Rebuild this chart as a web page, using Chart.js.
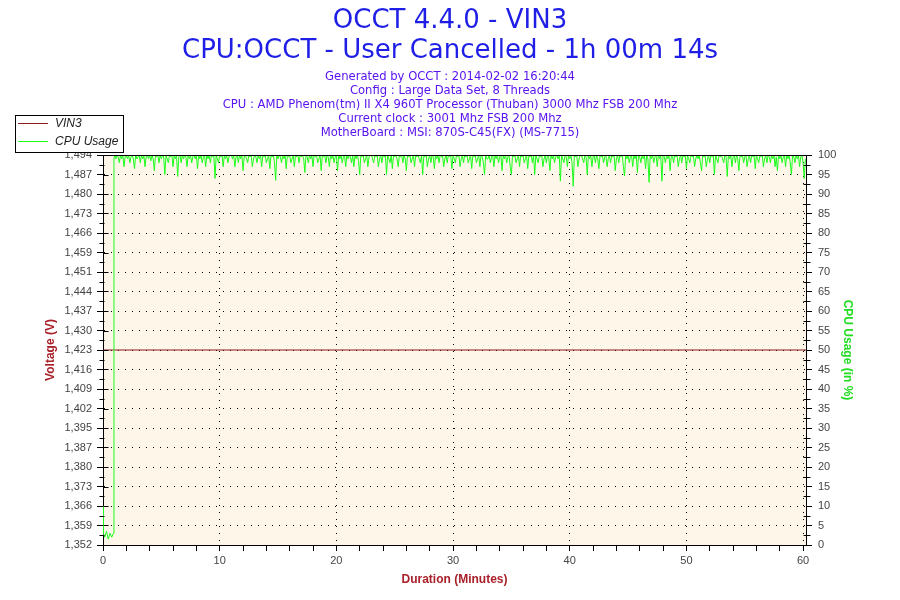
<!DOCTYPE html>
<html>
<head>
<meta charset="utf-8">
<title>OCCT 4.4.0 - VIN3</title>
<script src="https://cdn.jsdelivr.net/npm/chart.js@4.4.0/dist/chart.umd.min.js"></script>
<style>
    html, body { margin: 0; padding: 0; background: #fff; }
    #chart { display: block; }
</style>
</head>
<body>
<canvas id="chart" width="900" height="600"></canvas>
<script>
// Header texts.
const TITLE_LINES = ['OCCT 4.4.0 - VIN3', 'CPU:OCCT - User Cancelled - 1h 00m 14s'];
const INFO_LINES = [
    'Generated by OCCT : 2014-02-02 16:20:44',
    'Config : Large Data Set, 8 Threads',
    'CPU : AMD Phenom(tm) II X4 960T Processor (Thuban) 3000 Mhz FSB 200 Mhz',
    'Current clock : 3001 Mhz FSB 200 Mhz',
    'MotherBoard : MSI: 870S-C45(FX) (MS-7715)'
];
const SERIES_NAMES = ['VIN3', 'CPU Usage'];

// Voltage axis (left).
const VOLT_MIN = 1.352;
const VOLT_MAX = 1.494;
const VOLT_TICK_LABELS = ['1,352', '1,359', '1,366', '1,373', '1,380', '1,387', '1,395', '1,402', '1,409', '1,416',
                          '1,423', '1,430', '1,437', '1,444', '1,451', '1,459', '1,466', '1,473', '1,480', '1,487', '1,494'];

// VIN3 series (minutes, volts).
const VIN3_TIMES  = [0, 60.25];
const VIN3_VALUES = [1.423, 1.423];

// CPU usage series: the idle start, then the load run sampled every 0.1 min (one row = 2 min).
const CPU_START_TIMES  = [0, 0.03, 0.15, 0.3, 0.45, 0.6, 0.75, 0.9, 0.94];
const CPU_START_VALUES = [10, 3, 2, 3.5, 1.5, 3, 2, 3, 99];
const CPU_RUN_START = 1.0;
const CPU_RUN_STEP  = 0.1;
const CPU_RUN_VALUES = [
    100, 99, 100, 99.5, 98, 100, 99, 100, 97, 99.5, 100, 99, 100, 98, 99.5, 100, 99, 96.5, 100, 99,
    99.5, 100, 98, 100, 99, 100, 97, 99.5, 100, 99, 100, 98.5, 100, 99, 96, 100, 99.5, 100, 98, 100,
    99, 100, 99.5, 95, 100, 99, 98, 100, 99.5, 100, 97, 100, 99, 100, 94.5, 99.5, 100, 98, 100, 99,
    100, 99.5, 97, 100, 99, 100, 98, 99.5, 100, 99, 100, 96.5, 100, 99, 100, 98, 99.5, 100, 97, 100,
    99, 100, 98, 100, 99.5, 100, 94, 100, 99, 98, 100, 99.5, 100, 97, 100, 99, 100, 98, 99.5, 100,
    100, 99, 100, 97, 99.5, 100, 98, 100, 99, 100, 96, 99.5, 100, 99, 98, 100, 99.5, 100, 97, 99,
    100, 99.5, 98, 100, 99, 100, 97, 100, 99.5, 100, 98, 99, 100, 96.5, 100, 99.5, 100, 98, 93.5, 100,
    99, 100, 99.5, 98, 100, 99, 100, 96.5, 100, 99.5, 100, 98, 99, 100, 97, 100, 99.5, 100, 98, 100,
    99.5, 100, 99, 95.5, 100, 99.5, 98, 100, 99, 100, 97, 100, 99.5, 100, 98, 99, 100, 96, 100, 99.5,
    100, 98, 100, 99.5, 97, 100, 99, 100, 98, 99.5, 100, 96, 100, 99, 100, 98, 99.5, 100, 97, 100,
    99, 100, 99.5, 98, 100, 97, 100, 99, 100, 98.5, 95, 100, 99.5, 100, 98, 99, 100, 97, 99.5, 100,
    100, 99, 98, 100, 99.5, 100, 97, 99, 100, 98, 100, 99.5, 100, 95, 100, 99, 98, 100, 96.5, 100,
    99.5, 100, 99, 97, 100, 99.5, 100, 98, 100, 99, 96, 100, 99.5, 100, 98, 99, 100, 97, 100, 99.5,
    100, 99, 98, 100, 95, 100, 99.5, 100, 97, 99, 100, 98, 100, 99.5, 96.5, 100, 99, 100, 98, 100,
    99.5, 100, 97, 99, 100, 98, 100, 99.5, 100, 96.5, 100, 99, 98, 100, 99.5, 100, 97, 99, 100, 98,
    100, 99.5, 100, 98, 99, 100, 96.5, 100, 99.5, 100, 98, 99, 100, 97, 100, 99.5, 98, 95, 100, 99,
    99, 100, 98, 99.5, 100, 97, 100, 99, 100, 98, 99.5, 100, 96, 100, 99, 100, 98, 99.5, 100, 97,
    95, 100, 99.5, 100, 98, 99, 100, 97, 100, 99.5, 100, 98, 99, 100, 96.5, 100, 99.5, 100, 98, 100,
    95, 100, 99, 98, 100, 99.5, 100, 97, 99, 100, 98, 100, 99.5, 96, 100, 99, 100, 98, 99.5, 100,
    99, 100, 93.3, 100, 99, 98, 100, 99.5, 97, 100, 99, 100, 98, 92, 100, 99.5, 100, 97, 99, 100,
    100, 99, 98, 100, 99.5, 95, 100, 99, 100, 97, 99.5, 100, 98, 100, 99, 96.5, 100, 99.5, 100, 98,
    99.5, 100, 97, 99, 100, 98, 100, 99.5, 100, 96, 99, 100, 98, 100, 99.5, 100, 97, 94.6, 100, 99,
    100, 98, 99.5, 100, 97, 100, 99, 100, 95.5, 100, 99.5, 98, 100, 99, 100, 96.5, 100, 99, 93, 100,
    99, 100, 98, 99.5, 100, 97, 100, 99, 100, 93.3, 100, 99.5, 98, 100, 99, 100, 96, 99.5, 100, 98,
    100, 99.5, 100, 97, 99, 100, 98, 100, 99.5, 100, 96.5, 100, 99, 98, 100, 99.5, 100, 97, 99, 100,
    99, 100, 98, 96, 100, 99.5, 100, 97, 99, 100, 98, 100, 99.5, 100, 95, 100, 99, 98, 100, 99.5,
    100, 99, 98, 100, 99.5, 94.5, 100, 99, 100, 97, 99.5, 100, 98, 100, 99, 96, 100, 99.5, 100, 98,
    99.5, 100, 97, 99, 100, 98, 100, 99.5, 100, 96.5, 100, 99, 98, 100, 99.5, 100, 97, 99, 100, 98,
    100, 99.5, 98, 100, 99, 100, 97, 99.5, 96, 100, 99, 100, 98, 99.5, 100, 97, 100, 99, 100, 98,
    95, 100, 99.5, 98, 100, 99, 100, 97, 99.5, 100, 98, 94, 99
];

const COLORS = {
    title:    '#1e1ee6',
    info:     '#5a14f0',
    vin3:     '#8b1a1a',
    cpu:      '#1aff1a',
    plotBg:   '#fdf6e9',
    tickText: '#444444',
    voltAxis: '#a8202a',
    cpuAxis:  '#22dd22'
};

const vin3Points = VIN3_TIMES.map((t, i) => ({ x: t, y: VIN3_VALUES[i] }));
const cpuPoints = CPU_START_TIMES.map((t, i) => ({ x: t, y: CPU_START_VALUES[i] }))
    .concat(CPU_RUN_VALUES.map((v, i) => ({ x: CPU_RUN_START + i * CPU_RUN_STEP, y: v })));

const voltStep = (VOLT_MAX - VOLT_MIN) / (VOLT_TICK_LABELS.length - 1);
const tickFont = { family: '"Liberation Sans", Arial, sans-serif', size: 11 };
const dotted = [1, 6];

// Paints the white page and the cream plot area.
const backgroundPlugin = {
    id: 'background',
    beforeDraw(chart) {
        const { ctx, chartArea: a } = chart;
        ctx.save();
        ctx.fillStyle = '#fff';
        ctx.fillRect(0, 0, chart.width, chart.height);
        ctx.fillStyle = COLORS.plotBg;
        ctx.fillRect(a.left, a.top, a.right - a.left, a.bottom - a.top);
        ctx.restore();
    }
};

// Frame around the plot, minor ticks, header lines and the boxed legend.
const decorPlugin = {
    id: 'decor',
    afterDraw(chart) {
        const { ctx, chartArea: a, scales } = chart;
        ctx.save();
        ctx.strokeStyle = '#000';
        ctx.lineWidth = 1;
        ctx.beginPath();
        ctx.moveTo(a.left, Math.round(a.top) + 0.5);
        ctx.lineTo(a.right, Math.round(a.top) + 0.5);
        ctx.moveTo(Math.round(a.right) + 0.5, a.top);
        ctx.lineTo(Math.round(a.right) + 0.5, a.bottom);

        // Inner and half-step ticks on the voltage axis.
        const yV = scales.yV;
        const lx = Math.round(a.left) + 0.5;
        VOLT_TICK_LABELS.forEach((_, i) => {
            const y = Math.round(yV.getPixelForValue(VOLT_MIN + i * voltStep)) + 0.5;
            ctx.moveTo(lx, y);
            ctx.lineTo(lx + 5, y);
            if (i > 0) {
                const ym = Math.round(yV.getPixelForValue(VOLT_MIN + (i - 0.5) * voltStep)) + 0.5;
                ctx.moveTo(lx - 4, ym);
                ctx.lineTo(lx + 1, ym);
            }
        });

        // Half-step ticks on the CPU axis.
        const yC = scales.yC;
        const rx = Math.round(a.right) + 0.5;
        for (let v = 2.5; v < 100; v += 5) {
            const y = Math.round(yC.getPixelForValue(v)) + 0.5;
            ctx.moveTo(rx - 3, y);
            ctx.lineTo(rx + 4, y);
        }
        ctx.stroke();

        // Header.
        ctx.textAlign = 'center';
        ctx.textBaseline = 'middle';
        ctx.fillStyle = COLORS.title;
        ctx.font = '26px "DejaVu Sans", Verdana, sans-serif';
        TITLE_LINES.forEach((line, i) => ctx.fillText(line, chart.width / 2, 21 + i * 30));
        ctx.fillStyle = COLORS.info;
        ctx.font = '11.6px "DejaVu Sans", Verdana, sans-serif';
        INFO_LINES.forEach((line, i) => ctx.fillText(line, chart.width / 2, 76.5 + i * 14));

        // Legend box.
        ctx.fillStyle = '#fff';
        ctx.fillRect(15, 115, 108, 37);
        ctx.strokeStyle = '#000';
        ctx.strokeRect(15.5, 115.5, 108, 37);
        ctx.textAlign = 'left';
        ctx.font = 'italic 12px "Liberation Sans", Arial, sans-serif';
        chart.data.datasets.forEach((ds, i) => {
            const y = 123.5 + i * 18;
            ctx.strokeStyle = ds.borderColor;
            ctx.beginPath();
            ctx.moveTo(18, y);
            ctx.lineTo(48, y);
            ctx.stroke();
            ctx.fillStyle = '#222';
            ctx.fillText(ds.label, 55, y);
        });
        ctx.restore();
    }
};

new Chart(document.getElementById('chart'), {
    type: 'line',
    data: {
        datasets: [
            {
                label: SERIES_NAMES[0],
                data: vin3Points,
                yAxisID: 'yV',
                borderColor: COLORS.vin3,
                borderWidth: 1,
                pointRadius: 0,
                order: 1
            },
            {
                label: SERIES_NAMES[1],
                data: cpuPoints,
                yAxisID: 'yC',
                borderColor: COLORS.cpu,
                borderWidth: 1,
                pointRadius: 0,
                order: 0
            }
        ]
    },
    options: {
        responsive: false,
        animation: false,
        devicePixelRatio: 1,
        layout: { padding: { top: 155, left: 0, right: 0, bottom: 0 } },
        plugins: {
            legend: { display: false },
            title: { display: false },
            tooltip: { enabled: false }
        },
        scales: {
            x: {
                type: 'linear',
                min: 0,
                max: 60.25,
                afterFit: (scale) => { scale.height = 55; },
                border: { color: '#000', width: 1, dash: dotted },
                grid: {
                    color: (c) => (c.tick && c.tick.value % 10 === 0 && c.tick.value !== 0) ? '#000' : 'rgba(0,0,0,0)',
                    tickColor: '#000',
                    tickBorderDash: [],
                    tickLength: 6
                },
                ticks: {
                    stepSize: 2,
                    includeBounds: false,
                    autoSkip: false,
                    maxRotation: 0,
                    minRotation: 0,
                    padding: 3,
                    color: COLORS.tickText,
                    font: tickFont,
                    callback: (v) => (v % 10 === 0 ? String(v) : '')
                },
                title: {
                    display: true,
                    text: 'Duration (Minutes)',
                    color: COLORS.voltAxis,
                    font: { family: '"Liberation Sans", Arial, sans-serif', size: 12, weight: 'bold' },
                    padding: { top: 0, bottom: 13 }
                }
            },
            yV: {
                type: 'linear',
                position: 'left',
                min: VOLT_MIN,
                max: VOLT_MAX,
                afterFit: (scale) => { scale.width = 103; },
                afterBuildTicks: (scale) => {
                    scale.ticks = VOLT_TICK_LABELS.map((_, i) => ({ value: VOLT_MIN + i * voltStep }));
                },
                border: { color: '#000', width: 1, dash: dotted },
                grid: {
                    color: '#000',
                    tickColor: '#000',
                    tickBorderDash: [],
                    tickLength: 6
                },
                ticks: {
                    autoSkip: false,
                    padding: 5,
                    color: COLORS.tickText,
                    font: tickFont,
                    callback: (v, i) => VOLT_TICK_LABELS[i]
                },
                title: {
                    display: true,
                    text: 'Voltage (V)',
                    color: COLORS.voltAxis,
                    font: { family: '"Liberation Sans", Arial, sans-serif', size: 12, weight: 'bold' },
                    padding: { top: 43, bottom: 0 }
                }
            },
            yC: {
                type: 'linear',
                position: 'right',
                min: 0,
                max: 100,
                afterFit: (scale) => { scale.width = 94; },
                border: { color: '#000', width: 1 },
                grid: {
                    drawOnChartArea: false,
                    tickColor: '#000',
                    tickLength: 6
                },
                ticks: {
                    stepSize: 5,
                    autoSkip: false,
                    padding: 6,
                    color: COLORS.tickText,
                    font: tickFont
                },
                title: {
                    display: true,
                    text: 'CPU Usage (in %)',
                    color: COLORS.cpuAxis,
                    font: { family: '"Liberation Sans", Arial, sans-serif', size: 12, weight: 'bold' },
                    padding: { top: 45, bottom: 0 }
                }
            }
        }
    },
    plugins: [backgroundPlugin, decorPlugin]
});
</script>
</body>
</html>
